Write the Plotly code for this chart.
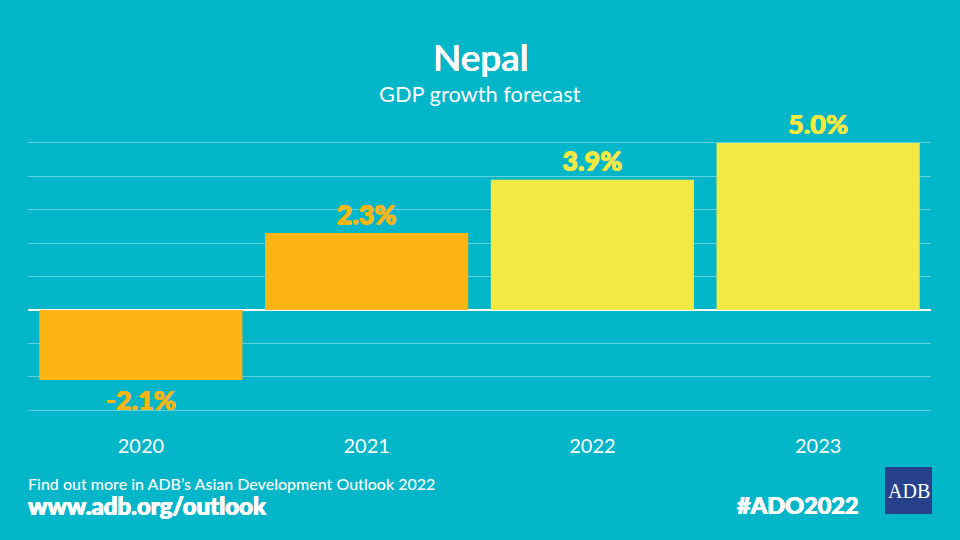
import plotly.graph_objects as go

years = ["2020", "2021", "2022", "2023"]
growth = [-2.1, 2.3, 3.9, 5.0]
labels = ["-2.1%", "2.3%", "3.9%", "5.0%"]
bar_colors = ["#FDB515", "#FDB515", "#F4E842", "#F4E842"]

W, H = 960, 540
BG = "#00B6C8"

def px(x):
    return x / W

def py(y):
    return 1 - y / H

def thick(color, d=0.6):
    return f"{d}px 0 0 {color}, -{d}px 0 0 {color}, 0 {d}px 0 {color}, 0 -{d}px 0 {color}"

def note(x, y, text, size, weight=400, anchor="left", color="white", family="Lato", shadow="none"):
    return dict(xref="paper", yref="paper", x=px(x), y=py(y), text=text, showarrow=False,
                xanchor=anchor, yanchor="middle",
                font=dict(family=family, size=size, color=color, weight=weight, shadow=shadow))

fig = go.Figure(go.Bar(
    x=years, y=growth, text=labels, textposition="outside", cliponaxis=False,
    marker=dict(color=bar_colors, line_width=0),
    textfont=dict(family="Lato", size=27, weight=900, color=bar_colors,
                  shadow=[thick(c, 0.4) for c in bar_colors]),
    hoverinfo="skip",
))

fig.update_layout(
    width=W, height=H, autosize=False, paper_bgcolor=BG, plot_bgcolor=BG,
    margin=dict(l=0, r=0, t=0, b=0), showlegend=False, bargap=0.1,
    xaxis=dict(domain=[px(28), px(931)], type="category", showgrid=False, showline=False,
               zeroline=False, ticks="outside", ticklen=16, tickcolor="rgba(0,0,0,0)",
               tickfont=dict(family="Lato", size=20, color="white")),
    yaxis=dict(domain=[py(411.7), py(141.3)], range=[-3.05, 5.05], dtick=1, tick0=0,
               showticklabels=False, gridcolor="rgba(255,255,255,0.38)", gridwidth=1,
               zeroline=True, zerolinecolor="white", zerolinewidth=2),
    shapes=[dict(type="rect", xref="paper", yref="paper", x0=px(885), x1=px(932),
                 y0=py(514), y1=py(467), fillcolor="#27408B", line_width=0)],
    annotations=[
        note(480, 57, "Nepal", 37, 500, "center", shadow=thick("white", 0.3)),
        note(480, 93, "GDP growth forecast", 21.8, 400, "center"),
        note(26, 483, "Find out more in ADB’s Asian Development Outlook 2022", 16, 500),
        note(26, 505, "www.adb.org/outlook", 24, 900, shadow=thick("white", 0.4)),
        note(861, 505, "#ADO2022", 23.5, 900, "right", shadow=thick("white", 0.4)),
        note(908.5, 491, "ADB", 20, 400, "center", family="Liberation Serif"),
    ],
)

fig.write_html("out.html", config=dict(displayModeBar=False),
               post_script="document.body.style.margin='0';document.documentElement.style.overflow='hidden';")
